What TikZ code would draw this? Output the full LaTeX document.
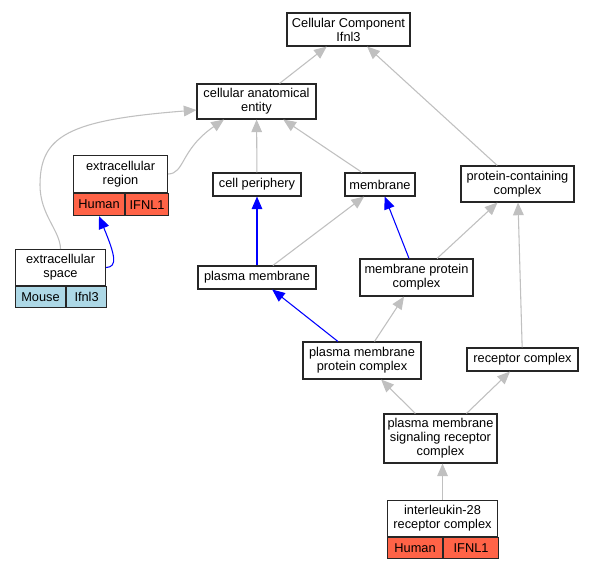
\documentclass[tikz,border=0pt]{standalone}
\usepackage{fontspec}
\setmainfont{Liberation Sans}
\usetikzlibrary{arrows.meta}
\definecolor{tomato}{HTML}{FF6347}
\definecolor{lblue}{HTML}{ADD8E6}
\definecolor{egray}{HTML}{C0C0C0}
\begin{document}
\begin{tikzpicture}[x=0.75pt,y=-0.75pt,
  box/.style={draw=black!85, line width=0.8pt, fill=white, align=center, inner sep=0pt,
    font=\fontsize{9.6}{10.5}\selectfont},
  sz/.style 2 args={minimum width=#1*0.75pt, minimum height=#2*0.75pt},
  tip/.style={-{Triangle[length=9.5pt,width=8pt]}},
  gedge/.style={draw=egray, line width=0.8pt, tip},
  bedge/.style={draw=blue, line width=0.8pt, tip}]
\useasboundingbox (0,0) rectangle (593,568);
\fill[white] (0,0) rectangle (593,568);

% nodes
\node[box, sz={123}{33}] (cc) at (348.5,29.5) {Cellular Component\\Ifnl3};
\node[box, sz={119}{35}] (cae) at (256.5,101.5) {cellular anatomical\\entity};
\node[box, sz={88}{23}] (cp) at (257,184.5) {cell periphery};
\node[box, sz={70}{23}] (mem) at (380,184.5) {membrane};
\node[box, sz={113}{36}] (pcc) at (517.5,184) {protein-containing\\complex};
\node[box, sz={118}{23}] (pm) at (257,277.5) {plasma membrane};
\node[box, sz={113}{37}] (mpc) at (416.5,277.5) {membrane protein\\complex};
\node[box, sz={118}{37}] (pmpc) at (362,360.5) {plasma membrane\\protein complex};
\node[box, sz={111}{23}] (rc) at (522.5,359.5) {receptor complex};
\node[box, sz={113}{49}] (pmsrc) at (440.5,438.5) {plasma membrane\\signaling receptor\\complex};

\node[box, sz={94}{37}, anchor=north west] (er) at (73,155) {extracellular\\region};
\node[box, sz={51}{22}, fill=tomato, anchor=north west] (erh) at (er.south west) {Human};
\node[box, sz={43}{22}, fill=tomato, anchor=north west] (eri) at (erh.north east) {IFNL1};

\node[box, sz={90}{36}, anchor=north west] (es) at (15,249) {extracellular\\space};
\node[box, sz={50}{21}, fill=lblue, anchor=north west] (esm) at (es.south west) {Mouse};
\node[box, sz={40}{21}, fill=lblue, anchor=north west] (esi) at (esm.north east) {Ifnl3};

\node[box, sz={110}{36}, anchor=north west] (il) at (387,500) {interleukin-28\\receptor complex};
\node[box, sz={55}{21}, fill=tomato, anchor=north west] (ilh) at (il.south west) {Human};
\node[box, sz={55}{21}, fill=tomato, anchor=north west] (ili) at (ilh.north east) {IFNL1};

% edges
\draw[gedge] (cae) -- (cc);
\draw[gedge] (pcc) -- (cc);
\draw[gedge] (cp) -- (cae);
\draw[gedge] (mem) -- (cae);
\draw[gedge] (er.east) .. controls (185,173.5) and (180,150) .. ([xshift=-24.4pt]cae.south);
\draw[gedge] (es.north) .. controls (60,230) and (40,215) .. (40,185)
   .. controls (40,135) and (70,120) .. ([yshift=-6.4pt]cae.west);
\draw[bedge] (es.east) .. controls (118,267) and (115,255) .. (erh.south);
\draw[bedge] (pm) -- (cp);
\draw[gedge] (pm) -- (mem);
\draw[bedge] (mpc) -- (mem);
\draw[gedge] (mpc) -- (pcc);
\draw[gedge] (rc) -- (pcc);
\draw[bedge] (pmpc) -- (pm);
\draw[gedge] (pmpc) -- (mpc);
\draw[gedge] (pmsrc) -- (pmpc);
\draw[gedge] (pmsrc) -- (rc);
\draw[gedge] (il.north) -- (il.north |- pmsrc.south);
\end{tikzpicture}
\end{document}
